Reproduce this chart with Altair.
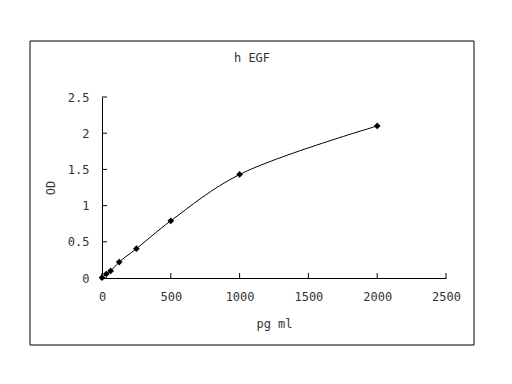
import altair as alt
import pandas as pd

conc = [0, 31.25, 62.5, 125, 250, 500, 1000, 2000]
od = [0.005, 0.055, 0.097, 0.22, 0.405, 0.79, 1.43, 2.10]
x_ticks = [0, 500, 1000, 1500, 2000, 2500]
y_ticks = [0, 0.5, 1, 1.5, 2, 2.5]

df = pd.DataFrame({"conc": conc, "od": od})
xt = pd.DataFrame({"t": x_ticks})
yt = pd.DataFrame({"t": y_ticks})

W, H = 344, 181
FONT = "DejaVu Sans Mono"

xs = alt.Scale(domain=[0, 2500], nice=False)
ys = alt.Scale(domain=[0, 2.5], nice=False)

xa = alt.Axis(values=x_ticks, format="d", title="pg ml", ticks=False,
              grid=False, domainColor="black", labelPadding=13,
              titlePadding=16, labelFont=FONT, titleFont=FONT,
              labelFontSize=12, titleFontSize=12, titleFontWeight="normal",
              labelColor="#333", titleColor="#333",
              labelOverlap=False, labelFlush=False)
ya = alt.Axis(values=y_ticks, labelExpr="format(datum.value, '.1~f')",
              title="OD", ticks=False,
              grid=False, domainColor="black", labelPadding=13,
              titlePadding=10, labelFont=FONT, titleFont=FONT,
              labelFontSize=12, titleFontSize=12, titleFontWeight="normal",
              labelColor="#333", titleColor="#333",
              labelOverlap=False, labelFlush=False)

base = alt.Chart(df)
line = base.mark_line(color="black", strokeWidth=1, interpolate="catmull-rom").encode(
    x=alt.X("conc:Q", scale=xs, axis=xa),
    y=alt.Y("od:Q", scale=ys, axis=ya),
)
pts = base.mark_point(shape="diamond", filled=True, color="black", size=45, opacity=1).encode(
    x=alt.X("conc:Q", scale=xs, axis=xa), y=alt.Y("od:Q", scale=ys, axis=ya)
)
xtick = alt.Chart(xt).mark_rule(color="black", strokeWidth=1).encode(
    x=alt.X("t:Q", scale=xs, axis=xa), y=alt.value(H), y2=alt.value(H - 5)
)
ytick = alt.Chart(yt).mark_rule(color="black", strokeWidth=1).encode(
    y=alt.Y("t:Q", scale=ys, axis=ya), x=alt.value(0), x2=alt.value(5)
)
border = alt.Chart(pd.DataFrame({"a": [0]})).mark_rect(
    fillOpacity=0, stroke="black", strokeWidth=1
).encode(x=alt.value(-72), x2=alt.value(372), y=alt.value(-56), y2=alt.value(248))

chart = alt.layer(border, line, pts, xtick, ytick).properties(
    width=W, height=H,
    title=alt.TitleParams("h EGF", font=FONT, fontSize=12, fontWeight="normal",
                          color="#333", anchor="middle", dx=-22, offset=-24),
    autosize=alt.AutoSizeParams(type="none"),
    padding={"left": 102, "top": 97, "right": 66, "bottom": 106},
    background="white",
).configure_view(strokeWidth=0, stroke="transparent")

chart.save("out.html", embed_options={"renderer": "svg", "actions": False})
